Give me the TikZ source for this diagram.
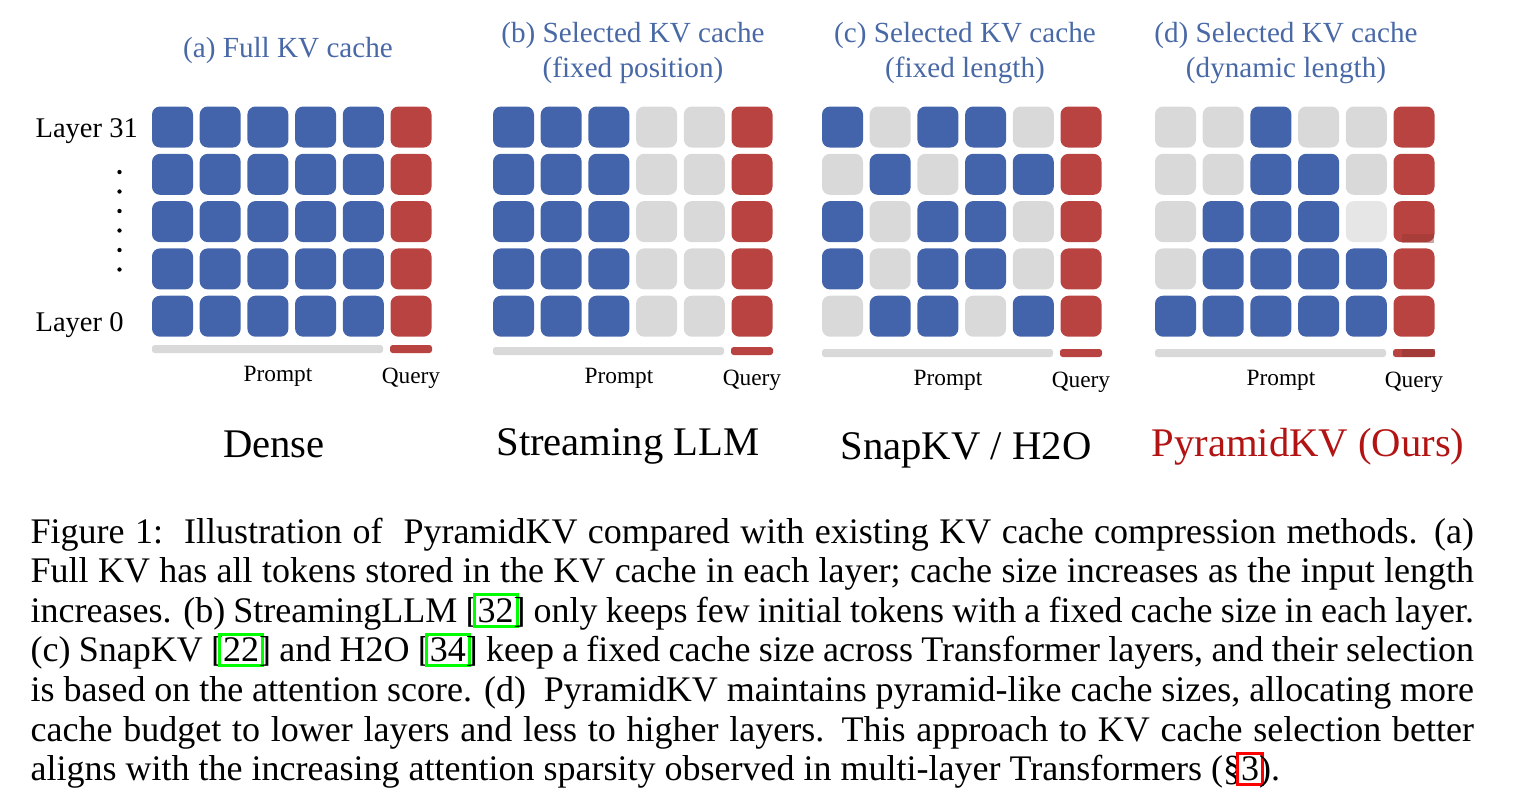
\documentclass[tikz,border=0pt]{standalone}
\usepackage{fontspec}
\setmainfont{Liberation Serif}
\usetikzlibrary{positioning}
\definecolor{kvB}{RGB}{67,100,170}
\definecolor{kvG}{RGB}{217,217,217}
\definecolor{kvL}{RGB}{230,230,230}
\definecolor{kvR}{RGB}{185,67,64}
\definecolor{ttlblue}{RGB}{72,104,166}
\definecolor{oursred}{RGB}{178,20,20}
\definecolor{linkgreen}{RGB}{0,255,0}
\definecolor{linkred}{RGB}{255,0,0}
\newcommand\linkbox[2]{{\setlength\fboxsep{0.6pt}\setlength\fboxrule{0.9pt}\kern-1.5pt\textcolor{#1}{\fbox{\color{black}#2}}\kern-1.5pt}}
\tikzset{
  cell/.style={rounded corners=2.4pt, minimum size=12.3pt, inner sep=0pt, draw=none},
  bar/.style={rounded corners=0.8pt, minimum height=2.4pt, inner sep=0pt, draw=none},
  ttl/.style={text=ttlblue, align=center, inner sep=0pt, font=\fontsize{8.75}{10.5}\selectfont},
  lbl/.style={inner sep=0pt, font=\fontsize{7}{8}\selectfont},
  lyr/.style={inner sep=0pt, anchor=base west, font=\fontsize{8.55}{10}\selectfont},
  mth/.style={inner sep=0pt, anchor=base, font=\fontsize{12.2}{14}\selectfont},
  caption/.style={inner sep=0pt, text width=433pt, align=justify, font=\fontsize{10.8}{11.88}\selectfont}
}
\begin{document}
\begin{tikzpicture}[x=0.3pt, y=-0.3pt]
  \useasboundingbox (0,0) rectangle (1514,800);

  \node[ttl](atitle) at (288,50){(a) Full KV cache};
  \node[ttl](btitle) at (633,53){(b) Selected KV cache\\(fixed position)};
  \node[ttl](ctitle) at (965,53){(c) Selected KV cache\\(fixed length)};
  \node[ttl](dtitle) at (1286,53){(d) Selected KV cache\\(dynamic length)};

  \node[lyr](top) at (35,137){Layer 31};
  \node[lyr](bottom) at (35,331){Layer 0};
  \foreach \i in {0,...,5}
    \fill (119.5,{172+19.5*\i}) circle (0.65pt);

  \foreach \row [count=\r] in {{B,B,B,B,B},{B,B,B,B,B},{B,B,B,B,B},{B,B,B,B,B},{B,B,B,B,B}}
    \foreach \k [count=\c] in \row
      \node[cell, fill=kv\k](a\r\c) at ({172.5+47.7*(\c-1)},{127+47.3*(\r-1)}){};
  \foreach \row [count=\r] in {{B,B,B,G,G},{B,B,B,G,G},{B,B,B,G,G},{B,B,B,G,G},{B,B,B,G,G}}
    \foreach \k [count=\c] in \row
      \node[cell, fill=kv\k](b\r\c) at ({513.5+47.7*(\c-1)},{127+47.3*(\r-1)}){};
  \foreach \row [count=\r] in {{B,G,B,B,G},{G,B,G,B,B},{B,G,B,B,G},{B,G,B,B,G},{G,B,B,G,B}}
    \foreach \k [count=\c] in \row
      \node[cell, fill=kv\k](c\r\c) at ({842.5+47.7*(\c-1)},{127+47.3*(\r-1)}){};
  \foreach \row [count=\r] in {{G,G,B,G,G},{G,G,B,B,G},{G,B,B,B,L},{G,B,B,B,B},{B,B,B,B,B}}
    \foreach \k [count=\c] in \row
      \node[cell, fill=kv\k](d\r\c) at ({1175.5+47.7*(\c-1)},{127+47.3*(\r-1)}){};

  \foreach \p/\x/\b in {a/152/349, b/493/351, c/822/353, d/1155/353}{
    \foreach \r in {1,...,5}
      \node[cell, fill=kvR](\p q\r) at ({\x+259},{127+47.3*(\r-1)}){};
    \node[bar, fill=kvG, minimum width=69.3pt](\p pbar) at ({\x+115.5},\b){};
    \node[bar, fill=kvR, minimum width=12.6pt](\p qbar) at ({\x+259},\b){};
    \node[lbl](\p prompt) at ({\x+126},{\b+27}){Prompt};
    \node[lbl](\p query) at ({\x+259},{\b+29}){Query};
  }
  \fill[kvR!80!black, opacity=0.45] (1402,234) rectangle (1434,243);
  \fill[kvR!80!black, opacity=0.6] (1402,349) rectangle (1435,357);

  \node[mth](dense) at (274,457){Dense};
  \node[mth](stream) at (628,455){Streaming LLM};
  \node[mth](snap) at (966,459){SnapKV / H2O};
  \node[mth, text=oursred](ours) at (1308,456){PyramidKV (Ours)};

  \node[caption, anchor=base west](cap) at (30,543){Figure 1:\ \ Illustration of\ \ PyramidKV compared with existing KV cache compression methods. (a)\linebreak
    Full KV has all tokens stored in the KV cache in each layer; cache size increases as the input length\linebreak
    increases. (b) StreamingLLM [\linkbox{linkgreen}{32}] only keeps few initial tokens with a fixed cache size in each layer.\linebreak
    (c) SnapKV [\linkbox{linkgreen}{22}] and H2O [\linkbox{linkgreen}{34}] keep a fixed cache size across Transformer layers, and their selection\linebreak
    is based on the attention score. (d)\ \ PyramidKV maintains pyramid-like cache sizes, allocating more\linebreak
    cache budget to lower layers and less to higher layers. This approach to KV cache selection better\linebreak
    aligns with the increasing attention sparsity observed in multi-layer Transformers (§\linkbox{linkred}{3}).};
\end{tikzpicture}
\end{document}
